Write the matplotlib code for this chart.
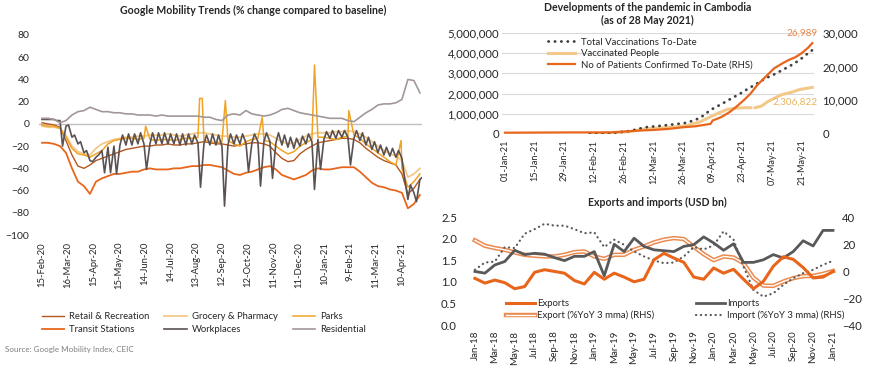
import numpy as np
import pandas as pd
import matplotlib
matplotlib.use("Agg")
import matplotlib.pyplot as plt
import matplotlib.patheffects as pe
from matplotlib.ticker import FuncFormatter, MultipleLocator

plt.rcParams['font.family'] = ['Lato', 'DejaVu Sans']

# ---------------- Google mobility: weekly readings from 15-Feb-20 ----------------
mob_start = pd.Timestamp('2020-02-15')
retail = [1, 0, -1, -3, -15, -28, -38, -40, -37, -33,
          -31, -29, -27, -25, -23, -22, -21, -20, -20, -19,
          -19, -18, -19, -19, -18, -18, -17, -16, -17, -18,
          -18, -19, -20, -19, -18, -17, -17, -18, -20, -26,
          -31, -34, -33, -27, -23, -20, -17, -16, -15, -14,
          -13, -13, -14, -17, -22, -26, -30, -33, -35, -37,
          -45, -63, -58, -50]
grocery = [-2, -3, -3, -4, -10, -20, -25, -27, -28, -22,
           -18, -16, -14, -13, -12, -12, -11, -11, -10, -10,
           -10, -9, -10, -11, -10, -9, -8, -8, -9, -10,
           -11, -11, -12, -12, -11, -10, -9, -9, -10, -13,
           -16, -18, -17, -14, -11, -9, -8, -8, -8, -7,
           -7, -6, -7, -9, -12, -16, -20, -24, -27, -29,
           -33, -48, -45, -40]
parks = [-1, -2, -2, -4, -12, -22, -27, -28, -30, -27,
         -24, -18, -15, -14, -13, -13, -14, -13, -14, -15,
         -14, -14, -15, -14, -13, -13, -12, -15, -16, -17,
         -16, -15, -18, -20, -16, -14, -13, -15, -16, -20,
         -24, -27, -25, -20, -17, -14, -12, -12, -13, -14,
         -12, -11, -10, -13, -18, -22, -26, -30, -34, -37,
         -40, -57, -52, -45]
parks_spike_dates = ['2020-06-15', '2020-08-17', '2020-08-20', '2020-09-16',
                     '2020-10-29', '2020-12-29', '2021-02-07', '2021-04-09']
parks_spike_values = [-2, 23, 23, 21, 6, 53, 12, -15]
transit = [-17, -17, -18, -20, -26, -40, -52, -56, -63, -52,
           -49, -47, -45, -45, -44, -43, -43, -41, -40, -41,
           -41, -41, -40, -40, -39, -38, -38, -37, -37, -38,
           -39, -42, -45, -46, -44, -43, -41, -39, -38, -41,
           -46, -48, -50, -48, -46, -42, -40, -41, -41, -40,
           -39, -39, -39, -43, -48, -53, -56, -57, -59, -60,
           -62, -76, -72, -64]
workplaces = [4, 4, 4, 3, -2, -12, -18, -26, -33, -30,
              -24, -21, -20, -19, -19, -19, -18, -18, -18, -18,
              -18, -18, -18, -19, -19, -18, -17, -18, -19, -19,
              -20, -19, -18, -18, -17, -17, -16, -16, -16, -17,
              -19, -21, -22, -20, -18, -16, -14, -14, -13, -13,
              -12, -12, -13, -15, -19, -23, -26, -28, -29, -30,
              -31, -68, -62, -50]
# mid-week readings (weekend peaks and holiday dips), 3 days after each weekly point
workplaces_midweek = [4, 4, 3, -20, -1, -10, -16, -24, -34, -28,
                      -44, -44, -45, -10, -9, -9, -8, -41, -8, -8,
                      -8, -9, -9, -9, -9, -10, -57, -10, -9, -10,
                      -74, -9, -10, -9, -43, -9, -56, -8, -49, -8,
                      -10, -12, -13, -11, -9, -59, -41, -7, -6, -6,
                      -6, -37, -6, -8, -12, -16, -19, -21, -22, -24,
                      -48, -55, -70, -48]
residential = [5, 5, 4, 1, 3, 8, 11, 12, 15, 13,
               11, 11, 10, 10, 9, 9, 8, 8, 8, 7,
               8, 7, 7, 7, 7, 7, 7, 6, 6, 4,
               3, 8, 9, 8, 12, 9, 8, 7, 8, 10,
               13, 14, 12, 10, 9, 8, 7, 6, 5, 5,
               5, 3, 2, 6, 10, 13, 17, 18, 18, 19,
               22, 40, 39, 28]
mob_tick_labels = ['15-Feb-20', '16-Mar-20', '15-Apr-20', '15-May-20', '14-Jun-20',
                   '14-Jul-20', '13-Aug-20', '12-Sep-20', '12-Oct-20', '11-Nov-20',
                   '11-Dec-20', '10-Jan-21', '9-Feb-21', '11-Mar-21', '10-Apr-21']

# ---------------- Cambodia pandemic 2021 ----------------
cases_dates = ['2021-01-01', '2021-01-15', '2021-02-01', '2021-02-15', '2021-02-20',
               '2021-02-28', '2021-03-05', '2021-03-12', '2021-03-19', '2021-03-26',
               '2021-04-01', '2021-04-05', '2021-04-08', '2021-04-09', '2021-04-13',
               '2021-04-17', '2021-04-20', '2021-04-24', '2021-04-27', '2021-04-30',
               '2021-05-04', '2021-05-08', '2021-05-12', '2021-05-15', '2021-05-18',
               '2021-05-21', '2021-05-24', '2021-05-26']
cases = [382, 414, 470, 479, 500, 800, 1000, 1200, 1500, 2000,
         2300, 2700, 3000, 4000, 5000, 6500, 8000, 10200, 12100, 14500,
         17000, 19500, 21000, 22000, 22800, 24000, 25600, 26989]
vacc_dates = ['2021-02-10', '2021-02-20', '2021-03-01', '2021-03-08', '2021-03-15',
              '2021-03-22', '2021-03-28', '2021-04-03', '2021-04-08', '2021-04-14',
              '2021-04-18', '2021-04-22', '2021-04-26', '2021-04-30', '2021-05-04',
              '2021-05-08', '2021-05-12', '2021-05-16', '2021-05-20', '2021-05-24',
              '2021-05-26']
total_vacc = [0, 40e3, 150e3, 330e3, 400e3, 480e3, 560e3, 790e3, 1.19e6, 1.53e6,
              1.77e6, 2.0e6, 2.26e6, 2.5e6, 2.76e6, 2.95e6, 3.17e6, 3.4e6, 3.66e6, 4.0e6,
              4.15e6]
people_dates = ['2021-02-10', '2021-02-20', '2021-03-01', '2021-03-08', '2021-03-15',
                '2021-03-22', '2021-03-28', '2021-04-03', '2021-04-08', '2021-04-12',
                '2021-04-16', '2021-04-20', '2021-04-24', '2021-04-27', '2021-04-28',
                '2021-04-29', '2021-05-02', '2021-05-05', '2021-05-09', '2021-05-12',
                '2021-05-16', '2021-05-20', '2021-05-24', '2021-05-26']
vacc_people = [0, 35e3, 120e3, 250e3, 300e3, 350e3, 420e3, 600e3, 850e3, 1.05e6,
               1.22e6, 1.28e6, 1.3e6, 1.3e6, np.nan, 1.3e6, 1.38e6, 1.6e6, 1.82e6, 1.96e6,
               2.06e6, 2.2e6, 2.27e6, 2.306822e6]
covid_ticks = ['2021-01-01', '2021-01-15', '2021-01-29', '2021-02-12', '2021-02-26',
               '2021-03-12', '2021-03-26', '2021-04-09', '2021-04-23', '2021-05-07',
               '2021-05-21']

# ---------------- Exports / imports, monthly Jan-18 .. Jan-21 ----------------
trade_months = pd.date_range('2018-01-01', '2021-01-01', freq='MS').strftime('%b-%y')
exports = [1.08, 0.97, 1.04, 0.98, 0.84, 0.89, 1.22, 1.28, 1.24, 1.20,
           1.03, 0.95, 1.22, 1.06, 1.20, 1.11, 1.00, 1.06, 1.51, 1.66,
           1.55, 1.45, 1.11, 1.06, 1.32, 1.20, 1.29, 1.06, 0.84, 1.01,
           1.36, 1.58, 1.52, 1.33, 1.09, 1.11, 1.24]
imports = [1.24, 1.20, 1.39, 1.47, 1.73, 1.63, 1.66, 1.64, 1.56, 1.49,
           1.59, 1.59, 1.70, 1.14, 1.87, 1.70, 2.01, 1.82, 1.74, 1.72,
           1.70, 1.82, 1.86, 2.04, 1.90, 1.73, 1.88, 1.45, 1.45, 1.51,
           1.63, 1.55, 1.70, 1.95, 1.83, 2.19, 2.19]
export_yoy = [22.7, 18.7, 17.0, 15.7, 13.7, 12.0, 11.3, 10.8, 10.8, 12.0,
              14.0, 14.5, 10.8, 9.0, 12.0, 12.0, 15.7, 18.2, 21.2, 23.2,
              24.4, 23.7, 18.0, 12.5, 8.0, 10.8, 10.0, 5.8, -5.0, -10.8,
              -11.0, -7.8, -5.3, -3.8, -3.6, -2.1, 0.0]
import_yoy = [0.9, 6.3, 7.0, 17.7, 17.0, 27.6, 31.0, 35.0, 33.6, 33.6,
              31.0, 28.0, 28.6, 17.7, 23.2, 19.4, 14.5, 10.8, 7.8, 5.8,
              6.3, 10.8, 17.7, 16.0, 19.0, 29.4, 23.2, 3.3, -14.0, -19.0,
              -16.5, -10.3, -5.3, -1.6, 0.9, 4.6, 7.6]

ORANGE = '#E8661C'
DARK = '#595959'
TAN = '#F3C98A'
TXT = '#262626'

fig = plt.figure(figsize=(8.7, 3.68), dpi=100)

# ======================= Left: mobility =======================
ax1 = fig.add_axes([0.0448, 0.3614, 0.4408, 0.5435])
week_dates = mob_start + pd.to_timedelta(np.arange(len(retail)) * 7, unit='D')

pk_x = np.concatenate([week_dates.values, pd.to_datetime(parks_spike_dates).values])
pk_y = np.concatenate([parks, parks_spike_values])
order = np.argsort(pk_x)
pk_x, pk_y = pk_x[order], pk_y[order]

mid_dates = week_dates + pd.Timedelta(days=3)
wp_x = np.empty(2 * len(workplaces), dtype='datetime64[ns]')
wp_x[0::2] = week_dates.values
wp_x[1::2] = mid_dates.values
wp_y = np.empty(2 * len(workplaces))
wp_y[0::2] = workplaces
wp_y[1::2] = workplaces_midweek

ax1.axhline(0, color='#BFBFBF', lw=1.0, zorder=1)
l_ret, = ax1.plot(week_dates, retail, color='#B4561E', lw=1.0, label='Retail & Recreation')
l_gro, = ax1.plot(week_dates, grocery, color=TAN, lw=1.3, label='Grocery & Pharmacy')
l_par, = ax1.plot(pk_x, pk_y, color='#F0A324', lw=1.1, label='Parks')
l_tra, = ax1.plot(week_dates, transit, color=ORANGE, lw=1.3, label='Transit Stations')
l_wor, = ax1.plot(wp_x, wp_y, color='#5A5152', lw=1.2, label='Workplaces')
l_res, = ax1.plot(week_dates, residential, color='#A39797', lw=1.2, label='Residential')

ax1.set_ylim(-100, 80)
ax1.set_yticks(np.arange(-100, 81, 20))
ax1.set_xlim(mob_start - pd.Timedelta(days=3.5), week_dates[-1] + pd.Timedelta(days=3))
mob_ticks = pd.to_datetime(mob_tick_labels, format='%d-%b-%y')
ax1.set_xticks(mob_ticks)
ax1.set_xticklabels(mob_tick_labels, rotation=90, fontsize=6.8, color=TXT)
ax1.tick_params(axis='y', labelsize=7.5, labelcolor=TXT, length=0, pad=7)
ax1.tick_params(axis='x', length=0, pad=5)
for s in ax1.spines.values():
    s.set_visible(False)

fig.text(0.291, 0.972, 'Google Mobility Trends (% change compared to baseline)',
         ha='center', va='center', fontsize=7.6, fontweight='bold', color=TXT)

leg1 = fig.legend([l_ret, l_tra, l_gro, l_wor, l_par, l_res],
                  [h.get_label() for h in [l_ret, l_tra, l_gro, l_wor, l_par, l_res]],
                  loc='upper left', bbox_to_anchor=(0.038, 0.175), ncol=3, frameon=False,
                  fontsize=6.8, handlelength=2.4, columnspacing=1.6, labelspacing=0.45,
                  handletextpad=0.5)
for t in leg1.get_texts():
    t.set_color(TXT)

fig.text(0.006, 0.049, 'Source: Google Mobility Index, CEIC', fontsize=5.8,
         color='#7F7F7F', ha='left', va='center')

# ======================= Top right: pandemic =======================
ax2 = fig.add_axes([0.5770, 0.6359, 0.3586, 0.2745])
ax2r = ax2.twinx()
cd = pd.to_datetime(cases_dates)
vd = pd.to_datetime(vacc_dates)
pd_ = pd.to_datetime(people_dates)

h_tot, = ax2.plot(vd, total_vacc, color='#404040', lw=2.0, linestyle=(0, (0.1, 2.2)),
                  dash_capstyle='round', label='Total Vaccinations To-Date', zorder=3)
h_ppl, = ax2.plot(pd_, vacc_people, color=TAN, lw=2.2, label='Vaccinated People', zorder=2)
h_cas, = ax2r.plot(cd, cases, color=ORANGE, lw=1.6, label='No of Patients Confirmed To-Date (RHS)')

ax2.set_ylim(0, 5e6)
ax2.yaxis.set_major_locator(MultipleLocator(1e6))
ax2.yaxis.set_major_formatter(FuncFormatter(lambda v, p: f'{v:,.0f}'))
ax2r.set_ylim(0, 30000)
ax2r.yaxis.set_major_locator(MultipleLocator(10000))
ax2r.yaxis.set_major_formatter(FuncFormatter(lambda v, p: f'{v:,.0f}'))
ax2.grid(axis='y', color='#D9D9D9', lw=0.8)
ax2.set_axisbelow(True)
t0 = pd.Timestamp('2021-01-01')
ax2.set_xlim(t0 - pd.Timedelta(days=1.4), t0 + pd.Timedelta(days=145.8))
ct = pd.to_datetime(covid_ticks)
ax2.set_xticks(ct)
ax2.set_xticklabels(ct.strftime('%d-%b-%y'), rotation=90, fontsize=6.6, color=TXT)
ax2.tick_params(axis='x', length=0, pad=4)
ax2.tick_params(axis='y', length=0, labelsize=8.2, labelcolor=TXT, pad=2)
ax2r.tick_params(axis='y', length=0, labelsize=8.2, labelcolor=TXT, pad=6)
for a in (ax2, ax2r):
    for s in a.spines.values():
        s.set_visible(False)

ax2r.annotate(f'{cases[-1]:,}', xy=(cd[-1], cases[-1]), xytext=(4, 7),
              textcoords='offset points', ha='right', va='center', fontsize=7.2,
              color='#E8884A')
ax2.annotate(f'{vacc_people[-1]:,.0f}', xy=(pd_[-1], vacc_people[-1]), xytext=(4, -11),
             textcoords='offset points', ha='right', va='center', fontsize=7.2,
             color='#E6B45E')

leg2 = ax2.legend([h_tot, h_ppl, h_cas], [h.get_label() for h in (h_tot, h_ppl, h_cas)],
                  loc='upper left', bbox_to_anchor=(0.12, 1.04), frameon=False, fontsize=6.9,
                  handlelength=2.8, labelspacing=0.25, handletextpad=0.6)
for t in leg2.get_texts():
    t.set_color(TXT)

fig.text(0.744, 0.962, 'Developments of the pandemic in Cambodia\n(as of 28 May 2021)',
         ha='center', va='center', fontsize=7.6, fontweight='bold', color=TXT, linespacing=1.15)

# ======================= Bottom right: trade =======================
ax3 = fig.add_axes([0.5379, 0.1168, 0.4253, 0.2935])
ax3r = ax3.twinx()
xm = np.arange(len(trade_months))

h_exp, = ax3.plot(xm, exports, color=ORANGE, lw=2.2, label='Exports', zorder=4)
h_imp, = ax3.plot(xm, imports, color=DARK, lw=2.0, label='Imports', zorder=3)
h_eyy, = ax3r.plot(xm, export_yoy, color='white', lw=1.0, label='Export (%YoY 3 mma) (RHS)',
                   path_effects=[pe.Stroke(linewidth=3.2, foreground='#EB8A4E'), pe.Normal()])
h_iyy, = ax3r.plot(xm, import_yoy, color=DARK, lw=1.6, linestyle=(0, (0.1, 2.1)),
                   dash_capstyle='round', label='Import (%YoY 3 mma) (RHS)')

ax3.set_ylim(0, 2.5)
ax3.yaxis.set_major_locator(MultipleLocator(0.5))
ax3.yaxis.set_major_formatter(FuncFormatter(lambda v, p: f'{v:.1f}'))
ax3r.set_ylim(-40, 40)
ax3r.yaxis.set_major_locator(MultipleLocator(20))
ax3.set_xlim(-0.7, 36.5)
ax3.set_xticks(xm[::2])
ax3.set_xticklabels(trade_months[::2], rotation=90, fontsize=7.0, color=TXT)
ax3.tick_params(axis='x', length=0, pad=4)
ax3.tick_params(axis='y', length=0, labelsize=8.2, labelcolor=TXT, pad=8)
ax3r.tick_params(axis='y', length=0, labelsize=8.2, labelcolor=TXT, pad=3)
for a in (ax3, ax3r):
    for s in a.spines.values():
        s.set_visible(False)
ax3.set_zorder(ax3r.get_zorder() + 1)
ax3.patch.set_visible(False)

leg3 = ax3.legend([h_exp, h_eyy, h_imp, h_iyy],
                  [h.get_label() for h in (h_exp, h_eyy, h_imp, h_iyy)],
                  loc='upper left', bbox_to_anchor=(0.08, 0.32), ncol=2, frameon=False,
                  fontsize=6.9, handlelength=3.0, labelspacing=0.25, handletextpad=0.2,
                  columnspacing=4.4)
for t in leg3.get_texts():
    t.set_color(TXT)

fig.text(0.756, 0.451, 'Exports and imports (USD bn)', ha='center', va='center',
         fontsize=7.6, fontweight='bold', color=TXT)

fig.savefig('out.png', dpi=100)
